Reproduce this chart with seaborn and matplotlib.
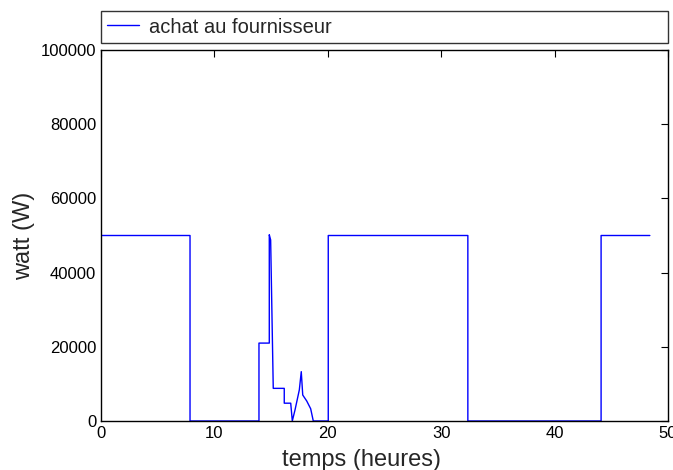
import numpy as np
import pandas as pd
import matplotlib
matplotlib.use("Agg")
import matplotlib.pyplot as plt
import seaborn as sns

# temps (heures) et puissance achetee (W)
temps = [0.0, 7.85, 7.85, 13.93, 13.93, 14.84, 14.84, 14.96, 15.19, 15.19,
         16.16, 16.16, 16.73, 16.87, 17.11, 17.49, 17.66, 17.79, 18.14, 18.49,
         18.72, 20.04, 20.04, 32.35, 32.35, 44.1, 44.1, 48.4]
watt = [50000, 50000, 0, 0, 21000, 21000, 50200, 48800, 8800, 8800,
        8800, 4800, 4800, 0, 3000, 8400, 13300, 7000, 5400, 3300,
        0, 0, 50000, 50000, 0, 0, 50000, 50000]

df = pd.DataFrame({"temps": temps, "watt": watt})

sns.set_style("white")
plt.rcParams["font.family"] = ["Liberation Sans", "DejaVu Sans"]

fig = plt.figure(figsize=(6.73, 4.70), dpi=100)
ax = fig.add_axes([101 / 673, 1 - 421 / 470, 567 / 673, 371 / 470])

sns.lineplot(data=df, x="temps", y="watt", ax=ax, color="blue", linewidth=1.0,
             estimator=None, sort=False, label="achat au fournisseur")

ax.set_xlim(0, 50)
ax.set_ylim(0, 100000)
ax.set_xticks([0, 10, 20, 30, 40, 50])
ax.set_yticks([0, 20000, 40000, 60000, 80000, 100000])
ax.tick_params(direction="in", top=True, right=True, length=5, width=0.8,
               labelsize=12, colors="black")
for s in ax.spines.values():
    s.set_color("black")
    s.set_linewidth(1.0)
ax.set_xlabel("temps (heures)", fontsize=17)
ax.xaxis.set_label_coords(0.46, -0.075)
ax.set_ylabel("watt (W)", fontsize=17, labelpad=4)

ax.legend(loc="lower left", bbox_to_anchor=(0, 1.02, 1, 0.08), mode="expand",
          ncol=1, frameon=True, fancybox=False, edgecolor="black", fontsize=14.5,
          borderaxespad=0, handlelength=1.6, handletextpad=0.5, borderpad=0.3)
ax.get_legend().get_frame().set_linewidth(1.0)

fig.savefig("out.png", dpi=100)
